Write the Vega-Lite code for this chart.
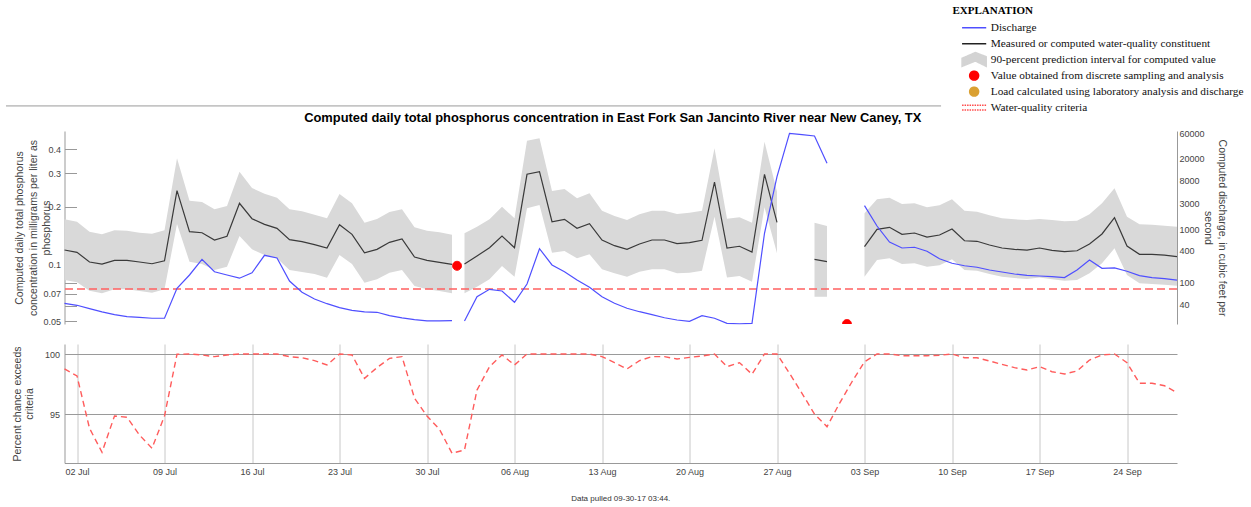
{
  "$schema": "https://vega.github.io/schema/vega-lite/v6.json",
  "background": "white",
  "padding": {"left": 4.5, "top": 5, "right": 2, "bottom": 2},
  "config": {
    "view": {"stroke": null},
    "font": "Liberation Sans",
    "axis": {"labelFont": "Liberation Sans", "titleFont": "Liberation Sans", "labelColor": "#444", "titleColor": "#444", "labelFontSize": 9, "titleFontSize": 10.5, "titleFontWeight": "normal", "domainColor": "#999", "tickColor": "#999", "labelOverlap": false, "labelFlush": false}
  },
  "datasets": {
    "daily": [
      {"date": "2017-07-01T00:00", "c": 0.1186, "lo": 0.0825, "hi": 0.1719, "q": 41.7, "p": 98.76},
      {"date": "2017-07-02T00:00", "c": 0.1154, "lo": 0.0803, "hi": 0.167, "q": 38.3, "p": 98.18},
      {"date": "2017-07-03T00:00", "c": 0.1026, "lo": 0.0725, "hi": 0.148, "q": 33.1, "p": 93.84},
      {"date": "2017-07-04T00:00", "c": 0.1001, "lo": 0.0703, "hi": 0.1434, "q": 28.8, "p": 91.85},
      {"date": "2017-07-05T00:00", "c": 0.1047, "lo": 0.0738, "hi": 0.1505, "q": 25.6, "p": 94.86},
      {"date": "2017-07-06T00:00", "c": 0.1047, "lo": 0.0738, "hi": 0.1498, "q": 23.5, "p": 94.75},
      {"date": "2017-07-07T00:00", "c": 0.1026, "lo": 0.0722, "hi": 0.1462, "q": 22.9, "p": 93.28},
      {"date": "2017-07-08T00:00", "c": 0.1005, "lo": 0.0708, "hi": 0.1445, "q": 22.0, "p": 92.18},
      {"date": "2017-07-09T00:00", "c": 0.1042, "lo": 0.0738, "hi": 0.1505, "q": 22.0, "p": 94.86},
      {"date": "2017-07-10T00:00", "c": 0.243, "lo": 0.1624, "hi": 0.3595, "q": 79.3, "p": 99.98},
      {"date": "2017-07-11T00:00", "c": 0.148, "lo": 0.103, "hi": 0.2154, "q": 140, "p": 100},
      {"date": "2017-07-12T00:00", "c": 0.1462, "lo": 0.1001, "hi": 0.212, "q": 274, "p": 99.92},
      {"date": "2017-07-13T00:00", "c": 0.1339, "lo": 0.0931, "hi": 0.1941, "q": 161, "p": 99.78},
      {"date": "2017-07-14T00:00", "c": 0.14, "lo": 0.0969, "hi": 0.202, "q": 140, "p": 99.92},
      {"date": "2017-07-15T00:00", "c": 0.2087, "lo": 0.1405, "hi": 0.3058, "q": 122, "p": 100},
      {"date": "2017-07-16T00:00", "c": 0.1732, "lo": 0.1196, "hi": 0.2511, "q": 154, "p": 100},
      {"date": "2017-07-17T00:00", "c": 0.1618, "lo": 0.1116, "hi": 0.2344, "q": 325, "p": 100},
      {"date": "2017-07-18T00:00", "c": 0.1542, "lo": 0.1073, "hi": 0.2233, "q": 290, "p": 100},
      {"date": "2017-07-19T00:00", "c": 0.1344, "lo": 0.0931, "hi": 0.1941, "q": 108, "p": 99.78},
      {"date": "2017-07-20T00:00", "c": 0.1312, "lo": 0.0909, "hi": 0.1895, "q": 66.8, "p": 99.69},
      {"date": "2017-07-21T00:00", "c": 0.1265, "lo": 0.0887, "hi": 0.1819, "q": 50.1, "p": 99.45},
      {"date": "2017-07-22T00:00", "c": 0.1215, "lo": 0.0848, "hi": 0.174, "q": 41.0, "p": 99.09},
      {"date": "2017-07-23T00:00", "c": 0.1611, "lo": 0.1116, "hi": 0.2336, "q": 34.6, "p": 100},
      {"date": "2017-07-24T00:00", "c": 0.1434, "lo": 0.1001, "hi": 0.2087, "q": 30.9, "p": 99.92},
      {"date": "2017-07-25T00:00", "c": 0.1148, "lo": 0.0799, "hi": 0.1651, "q": 28.8, "p": 97.98},
      {"date": "2017-07-26T00:00", "c": 0.1196, "lo": 0.0832, "hi": 0.1726, "q": 28.4, "p": 98.87},
      {"date": "2017-07-27T00:00", "c": 0.1302, "lo": 0.0901, "hi": 0.1878, "q": 24.6, "p": 99.64},
      {"date": "2017-07-28T00:00", "c": 0.1355, "lo": 0.0931, "hi": 0.1941, "q": 22.3, "p": 99.78},
      {"date": "2017-07-29T00:00", "c": 0.109, "lo": 0.0768, "hi": 0.1561, "q": 20.7, "p": 96.33},
      {"date": "2017-07-30T00:00", "c": 0.1047, "lo": 0.0738, "hi": 0.1498, "q": 19.6, "p": 94.86},
      {"date": "2017-07-31T00:00", "c": 0.1022, "lo": 0.0722, "hi": 0.1469, "q": 19.6, "p": 93.75},
      {"date": "2017-08-01T00:00", "c": 0.0998, "lo": 0.0703, "hi": 0.1427, "q": 19.8, "p": 91.77},
      {"date": "2017-08-01T12:00", "c": null, "lo": null, "hi": null, "q": null, "p": null},
      {"date": "2017-08-02T00:00", "c": 0.1001, "lo": 0.0703, "hi": 0.1452, "q": 19.6, "p": 92.04},
      {"date": "2017-08-03T00:00", "c": 0.1104, "lo": 0.0761, "hi": 0.1572, "q": 55.3, "p": 97.01},
      {"date": "2017-08-04T00:00", "c": 0.122, "lo": 0.0832, "hi": 0.1719, "q": 75.9, "p": 98.95},
      {"date": "2017-08-05T00:00", "c": 0.1405, "lo": 0.0977, "hi": 0.2003, "q": 70.6, "p": 99.92},
      {"date": "2017-08-06T00:00", "c": 0.122, "lo": 0.0859, "hi": 0.174, "q": 43.6, "p": 99.09},
      {"date": "2017-08-07T00:00", "c": 0.2963, "lo": 0.1964, "hi": 0.4447, "q": 95.3, "p": 100},
      {"date": "2017-08-08T00:00", "c": 0.3058, "lo": 0.2044, "hi": 0.4578, "q": 431, "p": 100},
      {"date": "2017-08-09T00:00", "c": 0.167, "lo": 0.1148, "hi": 0.2421, "q": 215, "p": 100},
      {"date": "2017-08-10T00:00", "c": 0.1719, "lo": 0.1172, "hi": 0.248, "q": 161, "p": 100},
      {"date": "2017-08-11T00:00", "c": 0.1542, "lo": 0.1073, "hi": 0.2217, "q": 113, "p": 100},
      {"date": "2017-08-12T00:00", "c": 0.163, "lo": 0.1126, "hi": 0.2355, "q": 82.8, "p": 100},
      {"date": "2017-08-13T00:00", "c": 0.1339, "lo": 0.0939, "hi": 0.1909, "q": 55.3, "p": 99.78},
      {"date": "2017-08-14T00:00", "c": 0.125, "lo": 0.0895, "hi": 0.179, "q": 41.7, "p": 99.28},
      {"date": "2017-08-15T00:00", "c": 0.1196, "lo": 0.0859, "hi": 0.1705, "q": 33.7, "p": 98.76},
      {"date": "2017-08-16T00:00", "c": 0.1276, "lo": 0.0912, "hi": 0.1827, "q": 29.1, "p": 99.45},
      {"date": "2017-08-17T00:00", "c": 0.1339, "lo": 0.0939, "hi": 0.1909, "q": 25.6, "p": 99.78},
      {"date": "2017-08-18T00:00", "c": 0.1339, "lo": 0.0939, "hi": 0.1909, "q": 22.5, "p": 99.78},
      {"date": "2017-08-19T00:00", "c": 0.1281, "lo": 0.0895, "hi": 0.1833, "q": 20.4, "p": 99.59},
      {"date": "2017-08-20T00:00", "c": 0.1296, "lo": 0.0901, "hi": 0.1862, "q": 19.3, "p": 99.72},
      {"date": "2017-08-21T00:00", "c": 0.1334, "lo": 0.0924, "hi": 0.1909, "q": 24.6, "p": 99.83},
      {"date": "2017-08-22T00:00", "c": 0.2699, "lo": 0.1774, "hi": 0.4057, "q": 22.0, "p": 100},
      {"date": "2017-08-23T00:00", "c": 0.1215, "lo": 0.0852, "hi": 0.1732, "q": 17.7, "p": 98.95},
      {"date": "2017-08-24T00:00", "c": 0.1241, "lo": 0.0866, "hi": 0.1761, "q": 17.4, "p": 99.28},
      {"date": "2017-08-25T00:00", "c": 0.1158, "lo": 0.0809, "hi": 0.1651, "q": 17.7, "p": 98.32},
      {"date": "2017-08-26T00:00", "c": 0.2963, "lo": 0.1988, "hi": 0.4395, "q": 833, "p": 100},
      {"date": "2017-08-27T00:00", "c": 0.1658, "lo": 0.114, "hi": 0.2401, "q": 9370, "p": 100},
      {"date": "2017-08-28T00:00", "c": null, "lo": null, "hi": null, "q": 60000, "p": 98.4},
      {"date": "2017-08-29T00:00", "c": null, "lo": null, "hi": null, "q": 56500, "p": 96.74},
      {"date": "2017-08-30T00:00", "c": 0.106, "lo": 0.0674, "hi": 0.1651, "q": 53500, "p": 95.02},
      {"date": "2017-08-31T00:00", "c": 0.103, "lo": 0.0674, "hi": 0.1585, "q": 16600, "p": 93.97},
      {"date": "2017-09-01T00:00", "c": null, "lo": null, "hi": null, "q": null, "p": 95.91},
      {"date": "2017-09-02T00:00", "c": null, "lo": null, "hi": null, "q": null, "p": 97.7},
      {"date": "2017-09-03T00:00", "c": 0.1235, "lo": 0.0859, "hi": 0.1848, "q": 2713, "p": 99.36},
      {"date": "2017-09-04T00:00", "c": 0.1524, "lo": 0.105, "hi": 0.2191, "q": 1138, "p": 100},
      {"date": "2017-09-05T00:00", "c": 0.1561, "lo": 0.1073, "hi": 0.2233, "q": 574, "p": 100},
      {"date": "2017-09-06T00:00", "c": 0.1434, "lo": 0.1001, "hi": 0.2069, "q": 444, "p": 99.86},
      {"date": "2017-09-07T00:00", "c": 0.1457, "lo": 0.101, "hi": 0.2087, "q": 458, "p": 99.86},
      {"date": "2017-09-08T00:00", "c": 0.1388, "lo": 0.0969, "hi": 0.1988, "q": 386, "p": 99.86},
      {"date": "2017-09-09T00:00", "c": 0.1422, "lo": 0.0986, "hi": 0.2037, "q": 281, "p": 99.89},
      {"date": "2017-09-10T00:00", "c": 0.1529, "lo": 0.106, "hi": 0.2191, "q": 231, "p": 100},
      {"date": "2017-09-11T00:00", "c": 0.1327, "lo": 0.0931, "hi": 0.1909, "q": 208, "p": 99.69},
      {"date": "2017-09-12T00:00", "c": 0.1318, "lo": 0.0924, "hi": 0.1884, "q": 195, "p": 99.69},
      {"date": "2017-09-13T00:00", "c": 0.126, "lo": 0.0887, "hi": 0.1805, "q": 173, "p": 99.42},
      {"date": "2017-09-14T00:00", "c": 0.1215, "lo": 0.0859, "hi": 0.174, "q": 159, "p": 99.14},
      {"date": "2017-09-15T00:00", "c": 0.1196, "lo": 0.0845, "hi": 0.1719, "q": 146, "p": 98.87},
      {"date": "2017-09-16T00:00", "c": 0.1186, "lo": 0.0835, "hi": 0.1705, "q": 138, "p": 98.67},
      {"date": "2017-09-17T00:00", "c": 0.1215, "lo": 0.0852, "hi": 0.1726, "q": 134, "p": 98.95},
      {"date": "2017-09-18T00:00", "c": 0.1182, "lo": 0.0832, "hi": 0.1705, "q": 130, "p": 98.53},
      {"date": "2017-09-19T00:00", "c": 0.1162, "lo": 0.0818, "hi": 0.1678, "q": 125, "p": 98.34},
      {"date": "2017-09-20T00:00", "c": 0.1176, "lo": 0.0825, "hi": 0.169, "q": 173, "p": 98.59},
      {"date": "2017-09-21T00:00", "c": 0.1276, "lo": 0.0895, "hi": 0.1827, "q": 266, "p": 99.5},
      {"date": "2017-09-22T00:00", "c": 0.144, "lo": 0.101, "hi": 0.2087, "q": 186, "p": 99.92},
      {"date": "2017-09-23T00:00", "c": 0.1753, "lo": 0.121, "hi": 0.2502, "q": 189, "p": 100},
      {"date": "2017-09-24T00:00", "c": 0.1245, "lo": 0.0877, "hi": 0.1774, "q": 164, "p": 99.28},
      {"date": "2017-09-25T00:00", "c": 0.1126, "lo": 0.0793, "hi": 0.1618, "q": 136, "p": 97.57},
      {"date": "2017-09-26T00:00", "c": 0.1126, "lo": 0.0786, "hi": 0.1611, "q": 125, "p": 97.57},
      {"date": "2017-09-27T00:00", "c": 0.1116, "lo": 0.078, "hi": 0.1591, "q": 120, "p": 97.37},
      {"date": "2017-09-28T00:00", "c": 0.1094, "lo": 0.077, "hi": 0.1572, "q": 112, "p": 96.79}
    ],
    "samples": [
      {"date": "2017-08-01T09:40", "c": 0.098, "series": "Value obtained from discrete sampling and analysis"},
      {"date": "2017-09-01T14:20", "c": 0.0485, "series": "Value obtained from discrete sampling and analysis"}
    ]
  },
  "spacing": 17,
  "vconcat": [
    {
      "width": 1112.5,
      "height": 193,
      "title": {"text": "Computed daily total phosphorus concentration in East Fork San Jancinto River near New Caney, TX", "font": "Liberation Sans", "fontSize": 12.9, "fontWeight": "bold", "color": "#000", "anchor": "middle", "offset": -19, "dx": -8},
      "resolve": {"scale": {"y": "independent"}},
      "layer": [
        {
          "data": {"name": "daily"},
          "mark": {"type": "area", "color": "#d9d9d9", "invalid": "break-paths-show-domains"},
          "encoding": {
            "x": {"field": "date", "type": "temporal",
              "scale": {"domain": [{"year": 2017, "month": "Jul", "date": 1}, {"year": 2017, "month": "Sep", "date": 28}]},
              "axis": {"values": [{"year": 2017, "month": "Jul", "date": 2}, {"year": 2017, "month": "Jul", "date": 9}, {"year": 2017, "month": "Jul", "date": 16}, {"year": 2017, "month": "Jul", "date": 23}, {"year": 2017, "month": "Jul", "date": 30}, {"year": 2017, "month": "Aug", "date": 6}, {"year": 2017, "month": "Aug", "date": 13}, {"year": 2017, "month": "Aug", "date": 20}, {"year": 2017, "month": "Aug", "date": 27}, {"year": 2017, "month": "Sep", "date": 3}, {"year": 2017, "month": "Sep", "date": 10}, {"year": 2017, "month": "Sep", "date": 17}, {"year": 2017, "month": "Sep", "date": 24}],
                "labels": false, "ticks": false, "domain": false, "grid": true, "gridColor": "#c8c8c8", "title": null}},
            "y": {"field": "lo", "type": "quantitative",
              "scale": {"type": "log", "domain": [0.0485, 0.5]},
              "axis": {"orient": "left", "values": [0.05, 0.06, 0.07, 0.08, 0.09, 0.1, 0.2, 0.3, 0.4],
                "labelExpr": "(datum.value > 0.055 && datum.value < 0.065) || (datum.value > 0.075 && datum.value < 0.095) ? '' : format(datum.value, '~g')",
                "tickSize": -12, "labelPadding": 16, "grid": false,
                "title": ["Computed daily total phosphorus", "concentration in milligrams per liter as", "phosphorus"],
                "titleLineHeight": 13.3, "titlePadding": -8.5}},
            "y2": {"field": "hi"}
          }
        },
        {
          "data": {"name": "daily"},
          "mark": {"type": "line", "color": "#3a3a3a", "strokeWidth": 1.2, "invalid": "break-paths-show-domains"},
          "encoding": {
            "x": {"field": "date", "type": "temporal", "axis": null},
            "y": {"field": "c", "type": "quantitative", "scale": {"type": "log", "domain": [0.0485, 0.5]}, "axis": null}
          }
        },
        {
          "data": {"values": [{}]},
          "mark": {"type": "rule", "color": "#ff6060", "strokeDash": [8, 4], "strokeWidth": 1.4},
          "encoding": {"y": {"datum": 0.074, "type": "quantitative", "scale": {"type": "log", "domain": [0.0485, 0.5]}, "axis": null}}
        },
        {
          "data": {"values": [{}]},
          "mark": {"type": "rule", "color": "#9a9a9a", "strokeWidth": 1},
          "encoding": {
            "x": {"datum": {"year": 2017, "month": "Jun", "date": 26, "hours": 7, "minutes": 40}, "type": "temporal", "axis": null},
            "x2": {"datum": {"year": 2017, "month": "Sep", "date": 9, "hours": 3}},
            "y": {"datum": 0.677, "type": "quantitative", "scale": {"type": "log", "domain": [0.0485, 0.5]}, "axis": null}
          }
        },
        {
          "data": {"name": "samples"},
          "mark": {"type": "point", "filled": true, "opacity": 1, "size": 80, "strokeWidth": 1, "clip": true},
          "encoding": {
            "x": {"field": "date", "type": "temporal", "axis": null},
            "y": {"field": "c", "type": "quantitative", "scale": {"type": "log", "domain": [0.0485, 0.5]}, "axis": null},
            "color": {"field": "series", "type": "nominal",
              "scale": {"domain": ["Discharge", "Measured or computed water-quality constituent", "90-percent prediction interval for computed value", "Value obtained from discrete sampling and analysis", "Load calculated using laboratory analysis and discharge", "Water-quality criteria"],
                "range": ["#4f4fff", "#222222", "#d3d3d3", "#ff0000", "#daa032", "#ff5050"]},
              "legend": {
                "title": "EXPLANATION", "orient": "none", "legendX": 888, "legendY": -126, "padding": 0,
                "titleFont": "Liberation Serif", "titleFontSize": 11, "titleFontWeight": "bold", "titleColor": "#000", "titlePadding": 6,
                "labelFont": "Liberation Serif", "labelFontSize": 11.3, "labelColor": "#111", "labelLimit": 400,
                "symbolSize": 80, "symbolStrokeWidth": 1.5, "symbolOffset": 16, "labelOffset": 11, "rowPadding": -5.1, "gridAlign": "all"
              }},
            "stroke": {"field": "series", "type": "nominal",
              "scale": {"domain": ["Discharge", "Measured or computed water-quality constituent", "90-percent prediction interval for computed value", "Value obtained from discrete sampling and analysis", "Load calculated using laboratory analysis and discharge", "Water-quality criteria"],
                "range": ["#4f4fff", "#222222", "#d3d3d3", "#ff0000", "#daa032", "#ff4a4a"]},
              "legend": {"title": "EXPLANATION"}},
            "strokeDash": {"field": "series", "type": "nominal",
              "scale": {"domain": ["Discharge", "Measured or computed water-quality constituent", "90-percent prediction interval for computed value", "Value obtained from discrete sampling and analysis", "Load calculated using laboratory analysis and discharge", "Water-quality criteria"],
                "range": [[1, 0], [1, 0], [1, 0], [1, 0], [1, 0], [1.5, 1]]},
              "legend": {"title": "EXPLANATION"}},
            "shape": {"field": "series", "type": "nominal",
              "scale": {"domain": ["Discharge", "Measured or computed water-quality constituent", "90-percent prediction interval for computed value", "Value obtained from discrete sampling and analysis", "Load calculated using laboratory analysis and discharge", "Water-quality criteria"],
                "range": ["M-2.7,0H2.7", "M-2.7,0H2.7", "M-2.7,1.5L-2.7,-0.3L0.3,-1.6L2.7,-0.65L2.7,1.5L0.3,0.3Z", "M1,0A1,1 0 1,1 -1,0A1,1 0 1,1 1,0Z", "M1,0A1,1 0 1,1 -1,0A1,1 0 1,1 1,0Z", "M-2.7,-0.55H2.7M-2.7,0.55H2.7"]},
              "legend": {"title": "EXPLANATION"}}
          }
        },
        {
          "data": {"name": "daily"},
          "mark": {"type": "line", "color": "#4f4fff", "strokeWidth": 1.2, "invalid": "break-paths-show-domains"},
          "encoding": {
            "x": {"field": "date", "type": "temporal", "axis": null},
            "y": {"field": "q", "type": "quantitative",
              "scale": {"type": "log", "domain": [17.2, 66200]},
              "axis": {"orient": "right", "values": [40, 100, 400, 1000, 3000, 8000, 20000, 60000], "format": "d", "ticks": false, "grid": false, "labelPadding": 2,
                "title": ["Computed discharge, in cubic feet per", "second"], "titleLineHeight": 14, "titlePadding": -2}}
          }
        }
      ]
    },
    {
      "width": 1112.5,
      "height": 119,
      "title": {"text": "Data pulled 09-30-17 03:44.", "orient": "bottom", "anchor": "middle", "font": "Liberation Sans", "fontSize": 8, "fontWeight": "normal", "color": "#333", "offset": 19},
      "data": {"name": "daily"},
      "mark": {"type": "line", "color": "#ff5c5c", "strokeDash": [6, 4], "strokeWidth": 1.4, "invalid": "filter"},
      "encoding": {
        "x": {"field": "date", "type": "temporal",
          "scale": {"domain": [{"year": 2017, "month": "Jul", "date": 1}, {"year": 2017, "month": "Sep", "date": 28}]},
          "axis": {"values": [{"year": 2017, "month": "Jul", "date": 2}, {"year": 2017, "month": "Jul", "date": 9}, {"year": 2017, "month": "Jul", "date": 16}, {"year": 2017, "month": "Jul", "date": 23}, {"year": 2017, "month": "Jul", "date": 30}, {"year": 2017, "month": "Aug", "date": 6}, {"year": 2017, "month": "Aug", "date": 13}, {"year": 2017, "month": "Aug", "date": 20}, {"year": 2017, "month": "Aug", "date": 27}, {"year": 2017, "month": "Sep", "date": 3}, {"year": 2017, "month": "Sep", "date": 10}, {"year": 2017, "month": "Sep", "date": 17}, {"year": 2017, "month": "Sep", "date": 24}],
            "format": "%d %b", "ticks": false, "grid": true, "gridColor": "#c8c8c8", "title": null, "labelPadding": 4}},
        "y": {"field": "p", "type": "quantitative",
          "scale": {"domain": [90.96, 100.83], "zero": false, "nice": false},
          "axis": {"values": [95, 100], "ticks": false, "grid": true, "gridColor": "#9a9a9a", "labelPadding": 5,
            "title": ["Percent chance exceeds", "criteria"], "titleLineHeight": 12, "titlePadding": 10}}
      }
    }
  ]
}
